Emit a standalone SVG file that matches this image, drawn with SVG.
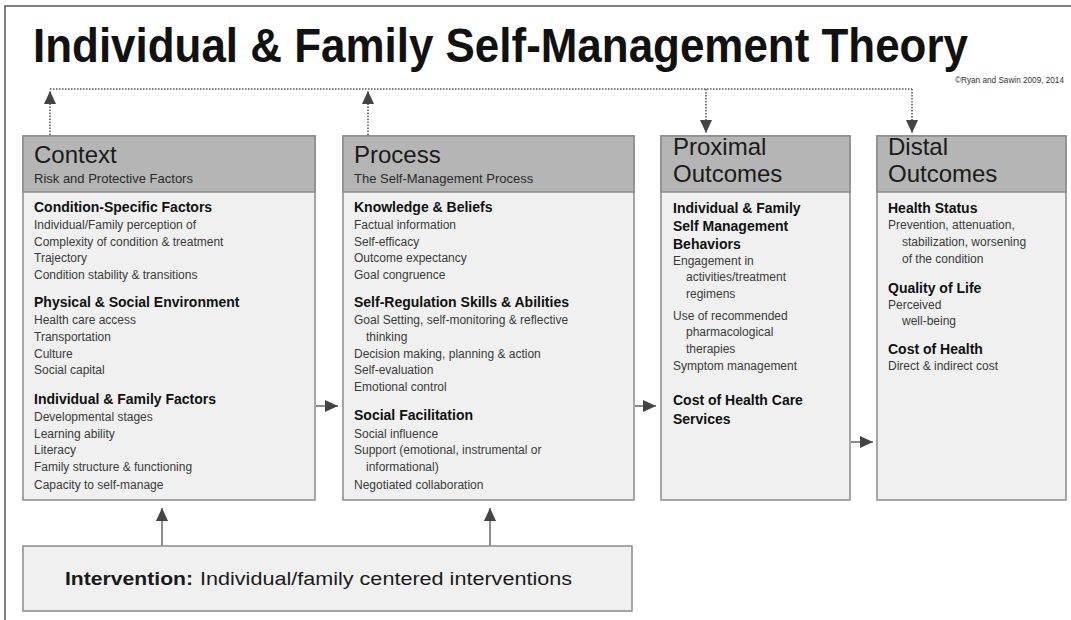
<svg xmlns="http://www.w3.org/2000/svg" width="1071" height="620" viewBox="0 0 1071 620">
<style>
.frame{stroke:#555;stroke-width:1.5;fill:none}
.box{fill:#f0f0f0;stroke:#8a8a8a;stroke-width:1.5}
.hdr{fill:#b5b5b5;stroke:#8a8a8a;stroke-width:1.5}
.h1{font-family:"Liberation Sans",Arial,sans-serif;font-size:24px;fill:#1a1a1a}
.h2{font-family:"Liberation Sans",Arial,sans-serif;font-size:13px;fill:#2a2a2a}
.b{font-family:"Liberation Sans",Arial,sans-serif;font-size:14px;font-weight:bold;fill:#111}
.t{font-family:"Liberation Sans",Arial,sans-serif;font-size:12px;fill:#3a3a3a}
.dot{stroke:#555;stroke-width:1.5;stroke-dasharray:1.5 1.5;fill:none}
.sol{stroke:#666;stroke-width:1.5;fill:none}
</style>
<defs>
<marker id="ah" markerUnits="userSpaceOnUse" markerWidth="14" markerHeight="12" refX="13" refY="6" orient="auto">
<path d="M0,0 L13,6 L0,12 Z" fill="#444"/>
</marker>
</defs>
<rect width="1071" height="620" fill="#fff"/>
<path class="frame" d="M5,620 L5,6 L1071,6"/>
<text x="33" y="62" font-family="Liberation Sans,Arial,sans-serif" font-size="48" font-weight="bold" fill="#111" textLength="935" lengthAdjust="spacingAndGlyphs">Individual &amp; Family Self-Management Theory</text>
<text x="955" y="83" font-family="Liberation Sans,Arial,sans-serif" font-size="8.5" fill="#333" textLength="109" lengthAdjust="spacingAndGlyphs">©Ryan and Sawin 2009, 2014</text>

<g id="connectors">
<path class="dot" d="M50,89 L912,89"/>
<path class="dot" d="M50,135 L50,91" marker-end="url(#ah)"/>
<path class="dot" d="M368,135 L368,91" marker-end="url(#ah)"/>
<path class="dot" d="M706,89 L706,133" marker-end="url(#ah)"/>
<path class="dot" d="M912,89 L912,133" marker-end="url(#ah)"/>
<path class="sol" d="M316,406 L338,406" marker-end="url(#ah)"/>
<path class="sol" d="M635,406 L656,406" marker-end="url(#ah)"/>
<path class="sol" d="M851,442 L873,442" marker-end="url(#ah)"/>
<path class="sol" d="M162,546 L162,508" marker-end="url(#ah)"/>
<path class="sol" d="M490,546 L490,508" marker-end="url(#ah)"/>
</g>

<g id="context">
<rect class="box" x="23" y="136" width="292" height="364"/>
<rect class="hdr" x="23" y="136" width="292" height="56"/>
<text class="h1" x="34" y="163">Context</text>
<text class="h2" x="34" y="183">Risk and Protective Factors</text>
<text class="b" x="34" y="212">Condition-Specific Factors</text>
<text class="t" x="34" y="229">Individual/Family  perception of</text>
<text class="t" x="34" y="246">Complexity of condition &amp; treatment</text>
<text class="t" x="34" y="262">Trajectory</text>
<text class="t" x="34" y="279">Condition  stability  &amp; transitions</text>
<text class="b" x="34" y="307">Physical &amp; Social Environment</text>
<text class="t" x="34" y="324">Health care access</text>
<text class="t" x="34" y="341">Transportation</text>
<text class="t" x="34" y="358">Culture</text>
<text class="t" x="34" y="374">Social capital</text>
<text class="b" x="34" y="404">Individual &amp; Family Factors</text>
<text class="t" x="34" y="421">Developmental  stages</text>
<text class="t" x="34" y="438">Learning ability</text>
<text class="t" x="34" y="454">Literacy</text>
<text class="t" x="34" y="471">Family structure &amp; functioning</text>
<text class="t" x="34" y="489">Capacity to self-manage</text>
</g>

<g id="process">
<rect class="box" x="343" y="136" width="291" height="364"/>
<rect class="hdr" x="343" y="136" width="291" height="56"/>
<text class="h1" x="354" y="163">Process</text>
<text class="h2" x="354" y="183">The Self-Management  Process</text>
<text class="b" x="354" y="212">Knowledge &amp; Beliefs</text>
<text class="t" x="354" y="229">Factual information</text>
<text class="t" x="354" y="246">Self-efficacy</text>
<text class="t" x="354" y="262">Outcome expectancy</text>
<text class="t" x="354" y="279">Goal congruence</text>
<text class="b" x="354" y="307">Self-Regulation Skills &amp; Abilities</text>
<text class="t" x="354" y="324">Goal Setting,  self-monitoring &amp; reflective</text>
<text class="t" x="366" y="341">thinking</text>
<text class="t" x="354" y="358">Decision making,  planning  &amp; action</text>
<text class="t" x="354" y="374">Self-evaluation</text>
<text class="t" x="354" y="391">Emotional  control</text>
<text class="b" x="354" y="420">Social Facilitation</text>
<text class="t" x="354" y="438">Social influence</text>
<text class="t" x="354" y="454">Support  (emotional,  instrumental  or</text>
<text class="t" x="366" y="471">informational)</text>
<text class="t" x="354" y="489">Negotiated  collaboration</text>
</g>

<g id="proximal">
<rect class="box" x="661" y="136" width="189" height="364"/>
<rect class="hdr" x="661" y="136" width="189" height="56"/>
<text class="h1" x="673" y="155">Proximal</text>
<text class="h1" x="673" y="182">Outcomes</text>
<text class="b" x="673" y="213">Individual &amp; Family</text>
<text class="b" x="673" y="231">Self Management</text>
<text class="b" x="673" y="249">Behaviors</text>
<text class="t" x="673" y="265">Engagement  in</text>
<text class="t" x="686" y="281">activities/treatment</text>
<text class="t" x="686" y="298">regimens</text>
<text class="t" x="673" y="320">Use of recommended</text>
<text class="t" x="686" y="336">pharmacological</text>
<text class="t" x="686" y="353">therapies</text>
<text class="t" x="673" y="370">Symptom management</text>
<text class="b" x="673" y="405">Cost of Health Care</text>
<text class="b" x="673" y="424">Services</text>
</g>

<g id="distal">
<rect class="box" x="877" y="136" width="189" height="364"/>
<rect class="hdr" x="877" y="136" width="189" height="56"/>
<text class="h1" x="888" y="155">Distal</text>
<text class="h1" x="888" y="182">Outcomes</text>
<text class="b" x="888" y="213">Health Status</text>
<text class="t" x="888" y="229">Prevention,  attenuation,</text>
<text class="t" x="902" y="246">stabilization,  worsening</text>
<text class="t" x="902" y="263">of the condition</text>
<text class="b" x="888" y="293">Quality of Life</text>
<text class="t" x="888" y="309">Perceived</text>
<text class="t" x="902" y="325">well-being</text>
<text class="b" x="888" y="354">Cost of Health</text>
<text class="t" x="888" y="370">Direct &amp; indirect cost</text>
</g>

<g id="intervention">
<rect class="box" x="23" y="546" width="609" height="65"/>
<text x="65" y="585" font-family="Liberation Sans,Arial,sans-serif" font-size="18" fill="#1a1a1a"><tspan font-weight="bold" textLength="128" lengthAdjust="spacingAndGlyphs">Intervention:</tspan><tspan x="200" textLength="372" lengthAdjust="spacingAndGlyphs">Individual/family  centered interventions</tspan></text>
</g>
</svg>
